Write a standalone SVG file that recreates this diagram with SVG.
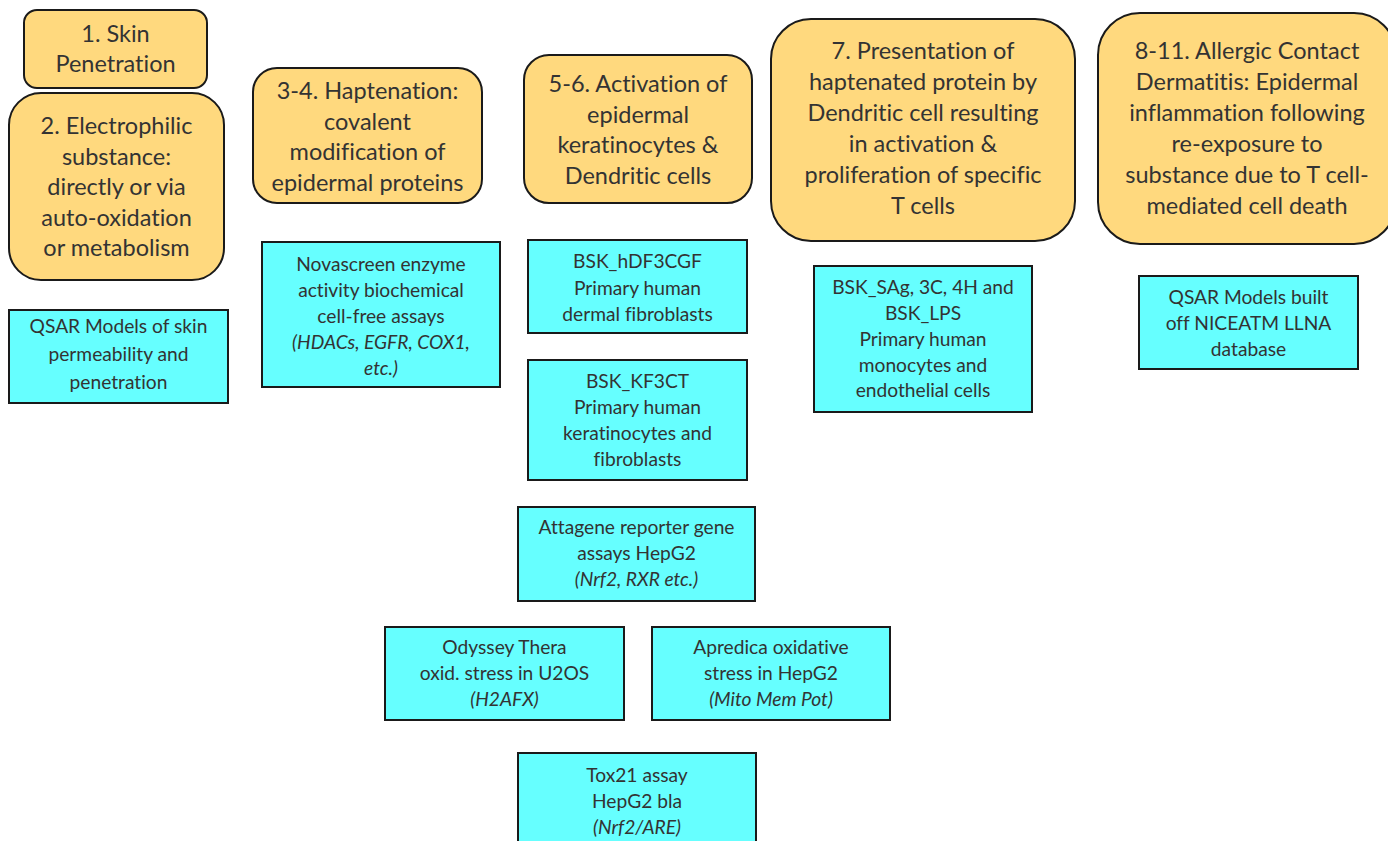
<svg xmlns="http://www.w3.org/2000/svg" width="1388" height="841" viewBox="0 0 1388 841">
<style>
.o{fill:#FFD97E;stroke:#1a1a1a;stroke-width:2}
.c{fill:#66FFFF;stroke:#1a1a1a;stroke-width:2}
text{font-family:Lato,"Open Sans","Liberation Sans",sans-serif;fill:#333;text-anchor:middle;font-variant-ligatures:none;font-feature-settings:"liga" 0}
.h{font-size:23.5px}
.s{font-size:19.2px}
.i{font-style:italic}
</style>
<rect width="1388" height="841" fill="#fff"/>
<g id="connectors"/>
<g id="n1"><rect class="o" x="24" y="10" width="183" height="78" rx="13"/>
<text class="h" x="115.5"><tspan x="115.5" y="42">1. Skin</tspan><tspan x="115.5" y="72">Penetration</tspan></text></g>
<g id="n2"><rect class="o" x="9" y="93" width="215" height="187" rx="32"/>
<text class="h"><tspan x="116.5" y="134">2. Electrophilic</tspan><tspan x="116.5" y="164.5">substance:</tspan><tspan x="116.5" y="195">directly or via</tspan><tspan x="116.5" y="225.5">auto-oxidation</tspan><tspan x="116.5" y="256">or metabolism</tspan></text></g>
<g id="n3"><rect class="o" x="253" y="68" width="229" height="135" rx="24"/>
<text class="h"><tspan x="367.5" y="99">3-4. Haptenation:</tspan><tspan x="367.5" y="129.5">covalent</tspan><tspan x="367.5" y="160">modification of</tspan><tspan x="367.5" y="190.5">epidermal proteins</tspan></text></g>
<g id="n5"><rect class="o" x="524" y="55" width="228" height="148" rx="25"/>
<text class="h"><tspan x="638" y="92">5-6. Activation of</tspan><tspan x="638" y="122.5">epidermal</tspan><tspan x="638" y="153">keratinocytes &amp;</tspan><tspan x="638" y="183.5">Dendritic cells</tspan></text></g>
<g id="n7"><rect class="o" x="771" y="19" width="304" height="222" rx="40"/>
<text class="h"><tspan x="923" y="59">7. Presentation of</tspan><tspan x="923" y="90">haptenated protein by</tspan><tspan x="923" y="121">Dendritic cell resulting</tspan><tspan x="923" y="152">in activation &amp;</tspan><tspan x="923" y="183">proliferation of specific</tspan><tspan x="923" y="214">T cells</tspan></text></g>
<g id="n8"><rect class="o" x="1098" y="13" width="298" height="231" rx="42"/>
<text class="h"><tspan x="1247" y="59">8-11. Allergic Contact</tspan><tspan x="1247" y="90">Dermatitis: Epidermal</tspan><tspan x="1247" y="121">inflammation following</tspan><tspan x="1247" y="152">re-exposure to</tspan><tspan x="1247" y="183">substance due to T cell-</tspan><tspan x="1247" y="214">mediated cell death</tspan></text></g>
<g id="qsar1"><rect class="c" x="9" y="310" width="219" height="93"/>
<text class="s"><tspan x="118.5" y="333">QSAR Models of skin</tspan><tspan x="118.5" y="361">permeability and</tspan><tspan x="118.5" y="389">penetration</tspan></text></g>
<g id="nova"><rect class="c" x="262" y="242" width="238" height="145"/>
<text class="s"><tspan x="381" y="271">Novascreen enzyme</tspan><tspan x="381" y="297">activity biochemical</tspan><tspan x="381" y="323">cell-free assays</tspan><tspan class="i" x="381" y="349">(HDACs, EGFR, COX1,</tspan><tspan class="i" x="381" y="375">etc.)</tspan></text></g>
<g id="bsk1"><rect class="c" x="528" y="240" width="219" height="93"/>
<text class="s"><tspan x="637.5" y="268">BSK_hDF3CGF</tspan><tspan x="637.5" y="295">Primary human</tspan><tspan x="637.5" y="321">dermal fibroblasts</tspan></text></g>
<g id="bsk2"><rect class="c" x="528" y="360" width="219" height="120"/>
<text class="s"><tspan x="637.5" y="388">BSK_KF3CT</tspan><tspan x="637.5" y="414">Primary human</tspan><tspan x="637.5" y="440">keratinocytes and</tspan><tspan x="637.5" y="466">fibroblasts</tspan></text></g>
<g id="atta"><rect class="c" x="518" y="507" width="237" height="94"/>
<text class="s"><tspan x="636.5" y="534">Attagene reporter gene</tspan><tspan x="636.5" y="560">assays HepG2</tspan><tspan class="i" x="636.5" y="586">(Nrf2, RXR etc.)</tspan></text></g>
<g id="odys"><rect class="c" x="385" y="627" width="239" height="93"/>
<text class="s"><tspan x="504.5" y="654">Odyssey Thera</tspan><tspan x="504.5" y="680">oxid. stress in U2OS</tspan><tspan class="i" x="504.5" y="706">(H2AFX)</tspan></text></g>
<g id="apre"><rect class="c" x="652" y="627" width="238" height="93"/>
<text class="s"><tspan x="771" y="654">Apredica oxidative</tspan><tspan x="771" y="680">stress in HepG2</tspan><tspan class="i" x="771" y="706">(Mito Mem Pot)</tspan></text></g>
<g id="tox21"><rect class="c" x="518" y="753" width="238" height="100"/>
<text class="s"><tspan x="637" y="782">Tox21 assay</tspan><tspan x="637" y="808">HepG2 bla</tspan><tspan class="i" x="637" y="834">(Nrf2/ARE)</tspan></text></g>
<g id="bsk3"><rect class="c" x="814" y="266" width="218" height="146"/>
<text class="s"><tspan x="923" y="294">BSK_SAg, 3C, 4H and</tspan><tspan x="923" y="320">BSK_LPS</tspan><tspan x="923" y="346">Primary human</tspan><tspan x="923" y="372">monocytes and</tspan><tspan x="923" y="397">endothelial cells</tspan></text></g>
<g id="qsar2"><rect class="c" x="1139" y="276" width="219" height="93"/>
<text class="s"><tspan x="1248.5" y="304">QSAR Models built</tspan><tspan x="1248.5" y="330">off NICEATM LLNA</tspan><tspan x="1248.5" y="356">database</tspan></text></g>
</svg>
